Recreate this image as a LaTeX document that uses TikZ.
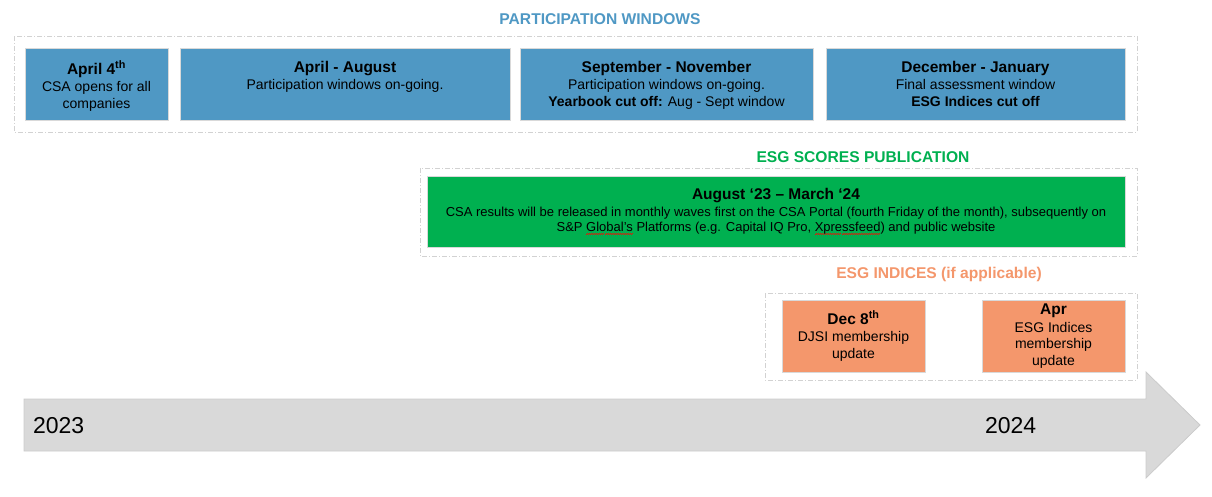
\documentclass[tikz,border=0pt]{standalone}
\usepackage{fontspec}
\setmainfont{Liberation Sans}
\definecolor{pwblue}{HTML}{4F98C4}
\definecolor{esggreen}{HTML}{00B050}
\definecolor{idxorange}{HTML}{F4976C}
\definecolor{arrowgray}{HTML}{D9D9D9}
\definecolor{arrowedge}{HTML}{CBCBCB}
\newcommand{\boxtitle}[1]{{\bfseries\fontsize{15.5}{16.5}\selectfont #1}}
\newsavebox{\spellbox}
\newcommand{\spellmark}[1]{\sbox{\spellbox}{#1}\rlap{\color{red}\hbox to \wd\spellbox{\xleaders\hbox{\rule[-3.4pt]{1pt}{0.7pt}\rule[-2.6pt]{1pt}{0.7pt}}\hfill}}\usebox{\spellbox}}

\begin{document}
\begin{tikzpicture}[x=1pt,y=-1pt,
	every node/.style={inner sep=0pt, outer sep=0pt},
	frame/.style={draw=gray!35, line width=0.8pt, dash pattern=on 5pt off 2pt on 1pt off 2pt},
	box/.style={draw=gray!30, line width=0.8pt, anchor=north west},
	boxtext/.style={align=center, font=\fontsize{14}{16.5}\selectfont},
	head/.style={font=\bfseries\fontsize{15.6}{18}\selectfont}]
	\useasboundingbox (0,0) rectangle (1212,496);
	% participation windows
	\node[head, text=pwblue] (pwHead) at (600,19) {PARTICIPATION WINDOWS};
	\draw[frame] (14,36) rectangle (1137,132);
	\node[box, fill=pwblue, minimum width=143, minimum height=72] (aprOpen) at (25,48) {};
	\node[box, fill=pwblue, minimum width=330, minimum height=72] (aprAug) at (180,48) {};
	\node[box, fill=pwblue, minimum width=293, minimum height=72] (sepNov) at (520,48) {};
	\node[box, fill=pwblue, minimum width=299, minimum height=72] (decJan) at (826,48) {};
	\node[boxtext, anchor=north] (aprOpenT) at (96.5,61) {\boxtitle{April 4\textsuperscript{th}}\\[1pt] CSA opens for all\\ companies};
	\node[boxtext, anchor=north] (aprAugT) at (345,61) {\boxtitle{April - August}\\[1pt] Participation windows on-going.};
	\node[boxtext, anchor=north] (sepNovT) at (666.5,61) {\boxtitle{September - November}\\[1pt] Participation windows on-going.\\ \textbf{Yearbook cut off:} Aug - Sept window};
	\node[boxtext, anchor=north] (decJanT) at (975.5,61) {\boxtitle{December - January}\\[1pt] Final assessment window\\ \textbf{ESG Indices cut off}};
	% scores publication
	\node[head, text=esggreen] (scHead) at (863,157) {ESG SCORES PUBLICATION};
	\draw[frame] (420,168) rectangle (1137,256);
	\node[box, fill=esggreen, minimum width=698, minimum height=71] (scores) at (427,176) {};
	\node[align=center, font=\fontsize{13}{15}\selectfont] (scoresT) at (scores.center) {\boxtitle{August `23 -- March `24}\\[2pt] CSA results will be released in monthly waves first on the CSA Portal (fourth Friday of the month), subsequently on\\ S\&P \spellmark{Global's} Platforms (e.g. Capital IQ Pro, \spellmark{Xpressfeed}) and public website};
	% indices
	\node[head, text=idxorange] (idxHead) at (939,274) {ESG INDICES (if applicable)};
	\draw[frame] (765,293) rectangle (1137,380);
	\node[box, fill=idxorange, minimum width=143, minimum height=72] (djsi) at (782,300) {};
	\node[box, fill=idxorange, minimum width=143, minimum height=72] (aprIdx) at (982,300) {};
	\node[boxtext] (djsiT) at (djsi.center) {\boxtitle{Dec 8\textsuperscript{th}}\\[1pt] DJSI membership\\ update};
	\node[boxtext] (aprIdxT) at (aprIdx.center) {\boxtitle{Apr}\\[1pt] ESG Indices\\ membership\\ update};
	% timeline arrow
	\filldraw[fill=arrowgray, draw=arrowedge, line width=0.8pt] (24,399) -- (1146,399) -- (1146,372) -- (1200,425) -- (1146,478) -- (1146,451) -- (24,451) -- cycle;
	\node[font=\fontsize{23}{26}\selectfont, anchor=west] (y2023) at (33,426) {2023};
	\node[font=\fontsize{23}{26}\selectfont, anchor=west] (y2024) at (985,426) {2024};
\end{tikzpicture}
\end{document}
